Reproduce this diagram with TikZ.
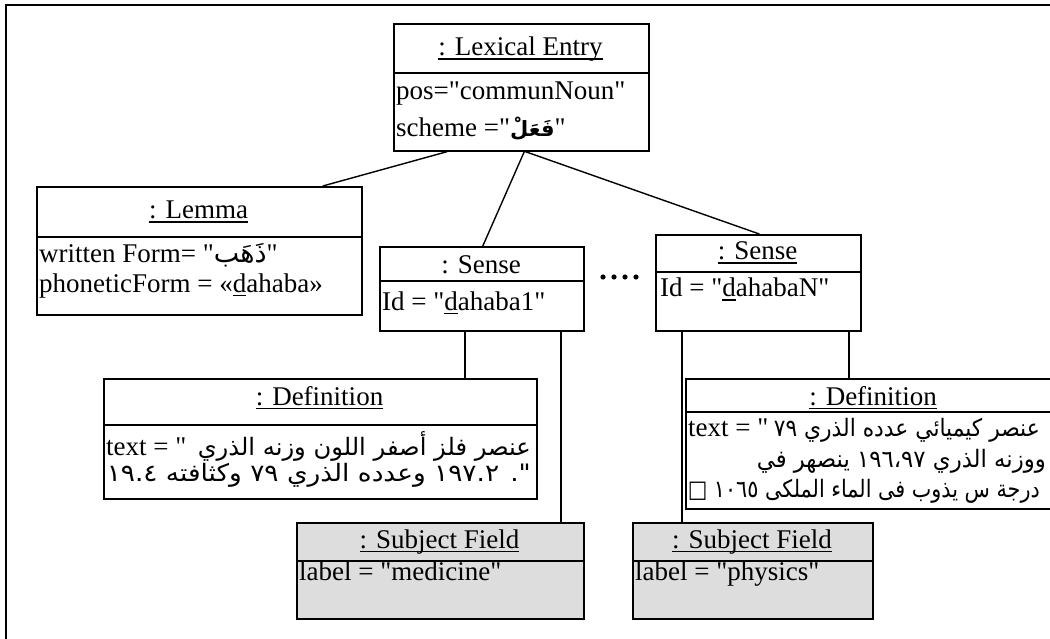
\documentclass[tikz,border=0pt]{standalone}
\usepackage{fontspec}
\usepackage{graphicx}
\setmainfont{Liberation Serif}[Ligatures=TeXOff]
\newfontfamily\arabicfont[Script=Arabic]{DejaVu Sans}
\TeXXeTstate=1
\definecolor{sfgray}{RGB}{221,221,221}
\newcommand\ulin[1]{\setbox0\hbox{#1}\rlap{\rule[-4pt]{\wd0}{1.5pt}}\box0}
\newcommand\fitw[2]{\setbox2\hbox{#2}\pgfmathsetmacro\fitsc{#1/\wd2}\scalebox{\fitsc}[1]{\box2}}
\begin{document}
\begin{tikzpicture}[x=1pt,y=-1pt,
  every node/.style={font=\fontsize{27}{31}\selectfont, inner sep=0pt},
  objbox/.style={draw, line width=1.6pt, inner sep=0pt, anchor=north west},
  divline/.style={line width=1.6pt},
  conn/.style={line width=1.4pt},
  arab/.style={font=\fontsize{24}{28}\arabicfont}]
\useasboundingbox (0,0) rectangle (1050,639);
\clip (0,0) rectangle (1050,639);
% outer frame (cut at right and bottom)
\draw[line width=2pt] (6,5) rectangle (1080,680);
% boxes
\node[objbox, minimum width=255pt, minimum height=127pt] (lex) at (393,23) {};
\draw[divline] (lex.west |- 0,73) -- (lex.east |- 0,73);
\node[objbox, minimum width=325pt, minimum height=128pt] (lemma) at (36,186) {};
\draw[divline] (lemma.west |- 0,237) -- (lemma.east |- 0,237);
\node[objbox, minimum width=204pt, minimum height=84pt] (s1) at (379,246) {};
\draw[divline] (s1.west |- 0,281) -- (s1.east |- 0,281);
\node[objbox, minimum width=205pt, minimum height=96pt] (sN) at (655,234) {};
\draw[divline] (sN.west |- 0,272) -- (sN.east |- 0,272);
\node[objbox, minimum width=433pt, minimum height=120pt] (def1) at (103,378) {};
\draw[divline] (def1.west |- 0,425) -- (def1.east |- 0,425);
\node[objbox, minimum width=376pt, minimum height=130pt] (def2) at (685,378) {};
\draw[divline] (def2.west |- 0,412) -- (def2.east |- 0,412);
\node[objbox, fill=sfgray, minimum width=287pt, minimum height=96pt] (sf1) at (296,522) {};
\draw[divline] (sf1.west |- 0,561) -- (sf1.east |- 0,561);
\node[objbox, fill=sfgray, minimum width=240pt, minimum height=96pt] (sf2) at (632,522) {};
\draw[divline] (sf2.west |- 0,561) -- (sf2.east |- 0,561);
% texts
\node[anchor=base] (lext) at (520.5,56) {\ulin{: Lexical Entry}};
\node[anchor=base west] (lexr1) at (396,100) {pos="communNoun"};
\node[anchor=base west] (lexr2) at (396,137) {scheme ="{\fontsize{21}{25}\arabicfont\bfseries\beginR فَعَلْ\endR}"};
\node[anchor=base] (lemt) at (198.5,219) {\ulin{: Lemma}};
\node[anchor=base west] (lemr1) at (39,263) {written Form= "{\arabicfont\beginR ذَهَب\endR}"};
\node[anchor=base west] (lemr2) at (39,292) {phoneticForm = «\ulin{d}ahaba»};
\node[anchor=base] (s1t) at (481,273) {: Sense};
\node[anchor=base west] (s1r) at (382,310) {Id = "\ulin{d}ahaba1"};
\node[anchor=base] (sNt) at (757.5,260) {\ulin{: Sense}};
\node[anchor=base west] (sNr) at (660,297) {Id = "\ulin{d}ahabaN"};
\node[anchor=base] (d1t) at (319.5,405) {\ulin{: Definition}};
\node[anchor=base west] (d1a) at (106,455) {text = "};
\node[anchor=base east, arab] (d1b) at (531,455) {\fitw{333}{\beginR عنصر فلز أصفر اللون وزنه الذري\endR}};
\node[anchor=base east, arab] (d1c) at (531,481) {\fitw{424}{\beginR ". ١٩٧.٢ وعدده الذري ٧٩ وكثافته ١٩.٤\endR}};
\node[anchor=base] (d2t) at (873,405) {\ulin{: Definition}};
\node[anchor=base west] (d2a) at (688,436) {text = "};
\node[anchor=base east, arab] (d2b) at (1040,436) {\fitw{266}{\beginR عنصر كيميائي عدده الذري ٧٩\endR}};
\node[anchor=base east, arab] (d2c) at (1046,467) {\fitw{289}{\beginR ووزنه الذري ١٩٦،٩٧ ينصهر في\endR}};
\node[anchor=base east, arab] (d2d) at (1040,497) {\fitw{352}{\beginR درجة س يذوب فى الماء الملكى ١٠٦٥ □\endR}};
\node[anchor=base] (f1t) at (439.5,548) {\ulin{: Subject Field}};
\node[anchor=base west] (f1r) at (299,580) {label = "medicine"};
\node[anchor=base] (f2t) at (752,548) {\ulin{: Subject Field}};
\node[anchor=base west] (f2r) at (635,580) {label = "physics"};
% dots
\foreach \x in {603,614,625,636} \fill (\x,277) circle (2.6pt);
% connectors
\draw[conn] ([xshift=-74pt]lex.south) -- ([xshift=123.5pt]lemma.north);
\draw[conn] ([xshift=3pt]lex.south) -- ([xshift=1pt]s1.north);
\draw[conn] ([xshift=4pt]lex.south) -- ([xshift=1pt]sN.north);
\draw[conn] ([xshift=-17pt]s1.south) coordinate (a1) -- (a1 |- def1.north);
\draw[conn] ([xshift=79pt]s1.south) coordinate (a2) -- (a2 |- sf1.north);
\draw[conn] ([xshift=-76.5pt]sN.south) coordinate (a3) -- (a3 |- sf2.north);
\draw[conn] ([xshift=90.5pt]sN.south) coordinate (a4) -- (a4 |- def2.north);
\end{tikzpicture}
\end{document}
